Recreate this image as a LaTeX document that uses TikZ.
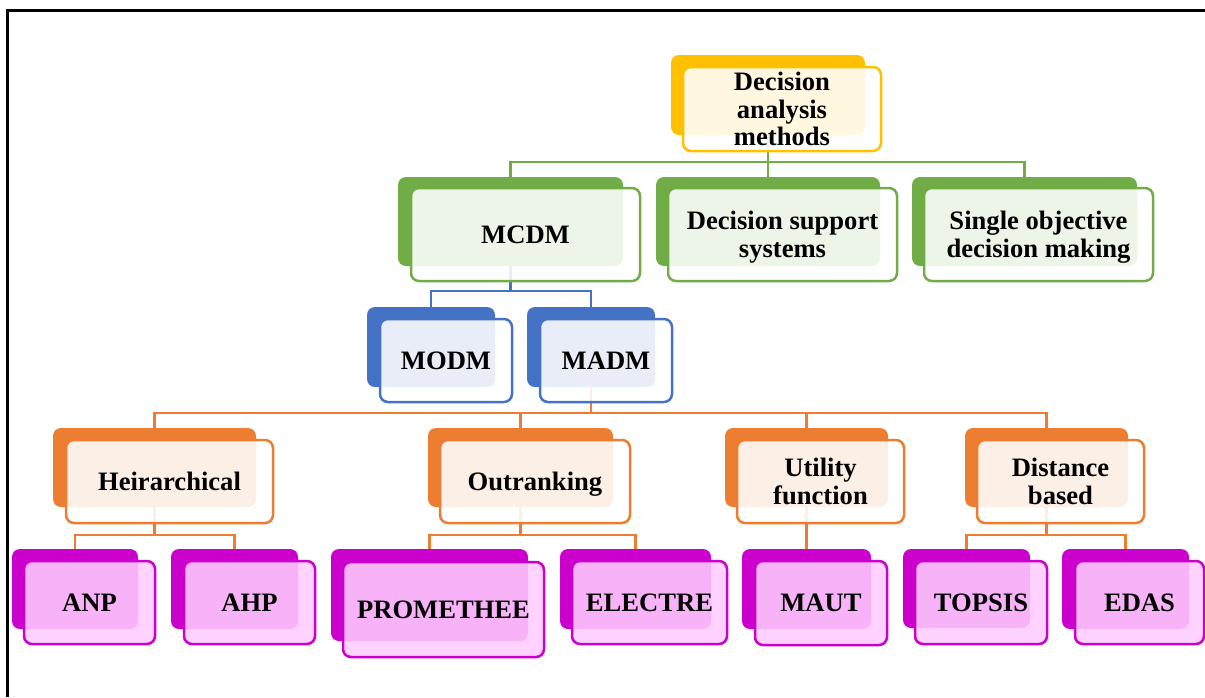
\documentclass[tikz,border=0pt]{standalone}
\usepackage{fontspec}
\setmainfont{Liberation Serif}
\definecolor{cgold}{HTML}{FFC000}
\definecolor{cgreen}{HTML}{70AD47}
\definecolor{cblue}{HTML}{4472C4}
\definecolor{corange}{HTML}{ED7D31}
\definecolor{cmag}{HTML}{CC00CC}
\definecolor{cpink}{HTML}{FFCCFF}
\begin{document}
\begin{tikzpicture}[x=1pt,y=-1pt,
  backbox/.style={fill=#1, draw=none, rounded corners=8pt, inner sep=0pt, outer sep=0pt},
  frontbox/.style 2 args={draw=#1, fill=#2, fill opacity=0.88, text opacity=1, line width=2.5pt,
     rounded corners=8pt, inner sep=0pt, outer sep=0pt, align=center, text=black,
     font=\fontsize{26.6}{27.5}\selectfont\bfseries},
  conn/.style={draw=#1, line width=2.5pt}]
\useasboundingbox (0,0) rectangle (1205,697);
% frame
\draw[line width=3pt] (7.5,697) -- (7.5,10.5) -- (1205,10.5);
% bus coordinates
\coordinate (busA) at (0,162);
\coordinate (busB) at (0,291);
\coordinate (busC) at (0,413);
\coordinate (busD) at (0,535);

% back boxes
\node[backbox=cgold, minimum width=194pt, minimum height=80pt] (root-b) at (768,95) {};
\node[backbox=cgreen, minimum width=225pt, minimum height=89pt] (mcdm-b) at (510.5,221.5) {};
\node[backbox=cgreen, minimum width=224pt, minimum height=89pt] (dss-b) at (768,221.5) {};
\node[backbox=cgreen, minimum width=225pt, minimum height=89pt] (sodm-b) at (1024.5,221.5) {};
\node[backbox=cblue, minimum width=128pt, minimum height=80pt] (modm-b) at (431,347) {};
\node[backbox=cblue, minimum width=128pt, minimum height=80pt] (madm-b) at (591,347) {};
\node[backbox=corange, minimum width=203pt, minimum height=79pt] (hier-b) at (154.5,467.5) {};
\node[backbox=corange, minimum width=185pt, minimum height=79pt] (outr-b) at (520.5,467.5) {};
\node[backbox=corange, minimum width=163pt, minimum height=79pt] (util-b) at (806.5,467.5) {};
\node[backbox=corange, minimum width=163pt, minimum height=79pt] (dist-b) at (1046.5,467.5) {};
\node[backbox=cmag, minimum width=126pt, minimum height=80pt] (anp-b) at (75,589) {};
\node[backbox=cmag, minimum width=127pt, minimum height=80pt] (ahp-b) at (234.5,589) {};
\node[backbox=cmag, minimum width=197pt, minimum height=92pt] (prom-b) at (429.5,595) {};
\node[backbox=cmag, minimum width=151pt, minimum height=80pt] (elec-b) at (635.5,589) {};
\node[backbox=cmag, minimum width=129pt, minimum height=80pt] (maut-b) at (806.5,589) {};
\node[backbox=cmag, minimum width=127pt, minimum height=79pt] (tops-b) at (966.5,588.5) {};
\node[backbox=cmag, minimum width=127pt, minimum height=80pt] (edas-b) at (1125.5,589) {};

% connectors
\foreach \c in {mcdm,dss,sodm}
  \draw[conn=cgreen] (root-b.south) -- (root-b.south |- busA) -| (\c-b.north);
\foreach \c in {modm,madm}
  \draw[conn=cblue] (mcdm-b.south) -- (mcdm-b.south |- busB) -| (\c-b.north);
\foreach \c in {hier,outr,util,dist}
  \draw[conn=corange] (madm-b.south) -- (madm-b.south |- busC) -| (\c-b.north);
\foreach \c in {anp,ahp}
  \draw[conn=corange] (hier-b.south) -- (hier-b.south |- busD) -| (\c-b.north);
\foreach \c in {prom,elec}
  \draw[conn=corange] (outr-b.south) -- (outr-b.south |- busD) -| (\c-b.north);
\draw[conn=corange] (util-b.south) -- (maut-b.north);
\foreach \c in {tops,edas}
  \draw[conn=corange] (dist-b.south) -- (dist-b.south |- busD) -| (\c-b.north);

% front boxes
\node[frontbox={cgold}{white}, minimum width=198pt, minimum height=84pt] (root) at (782,109) {Decision\\analysis\\methods};
\node[frontbox={cgreen}{white}, minimum width=229pt, minimum height=93pt] (mcdm) at (525.5,234.5) {MCDM};
\node[frontbox={cgreen}{white}, minimum width=229pt, minimum height=93pt, text depth=0pt] (dss) at (782.5,234.5) {Decision support\\systems};
\node[frontbox={cgreen}{white}, minimum width=229pt, minimum height=93pt, text depth=0pt] (sodm) at (1038.5,234.5) {Single objective\\decision making};
\node[frontbox={cblue}{white}, minimum width=132pt, minimum height=83pt] (modm) at (446,360.5) {MODM};
\node[frontbox={cblue}{white}, minimum width=132pt, minimum height=83pt] (madm) at (606,360.5) {MADM};
\node[frontbox={corange}{white}, minimum width=207pt, minimum height=83pt] (hier) at (169.5,481.5) {Heirarchical};
\node[frontbox={corange}{white}, minimum width=190pt, minimum height=83pt, text depth=0pt] (outr) at (535,481.5) {Outranking};
\node[frontbox={corange}{white}, minimum width=167pt, minimum height=83pt] (util) at (820.5,481.5) {Utility\\function};
\node[frontbox={corange}{white}, minimum width=167pt, minimum height=83pt] (dist) at (1060.5,481.5) {Distance\\based};
\node[frontbox={cmag}{cpink}, minimum width=131pt, minimum height=83pt] (anp) at (89.5,602.5) {ANP};
\node[frontbox={cmag}{cpink}, minimum width=131pt, minimum height=83pt] (ahp) at (249.5,602.5) {AHP};
\node[frontbox={cmag}{cpink}, minimum width=201pt, minimum height=95pt] (prom) at (443.5,609.5) {PROMETHEE};
\node[frontbox={cmag}{cpink}, minimum width=155pt, minimum height=83pt] (elec) at (649.5,602.5) {ELECTRE};
\node[frontbox={cmag}{cpink}, minimum width=132pt, minimum height=84pt] (maut) at (821,603) {MAUT};
\node[frontbox={cmag}{cpink}, minimum width=132pt, minimum height=83pt] (tops) at (981,602.5) {TOPSIS};
\node[frontbox={cmag}{cpink}, minimum width=129pt, minimum height=83pt] (edas) at (1139.5,602.5) {EDAS};
\end{tikzpicture}
\end{document}
